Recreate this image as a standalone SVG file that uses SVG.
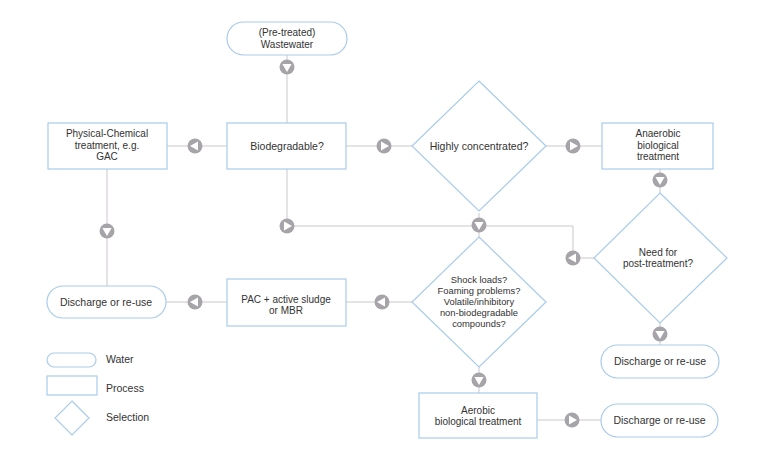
<svg xmlns="http://www.w3.org/2000/svg" xmlns:xlink="http://www.w3.org/1999/xlink" width="768" height="452" viewBox="0 0 768 452">
<style>
.n{fill:#ffffff;stroke:#a9cbea;stroke-width:1.2}
.c{fill:none;stroke:#cbc7cd;stroke-width:1}
.t{font-family:"Liberation Sans",Arial,sans-serif;font-size:10px;fill:#333333;text-anchor:middle}
.s{font-size:9.4px}
.l{font-family:"Liberation Sans",Arial,sans-serif;font-size:10.5px;fill:#333333}
</style>
<defs>
<g id="arr">
<circle r="7.5" fill="#a6a4a9"/>
<polygon points="-3,-4.6 5,0 -3,4.6" fill="#ffffff"/>
</g>
</defs>
<rect width="768" height="452" fill="#ffffff"/>
<g id="connectors">
<path class="c" d="M287,55 V123"/>
<path class="c" d="M227,146 H167"/>
<path class="c" d="M346,146 H412"/>
<path class="c" d="M546,146 H602"/>
<path class="c" d="M660,169 V193"/>
<path class="c" d="M287,169 V226 H573 V258 H594"/>
<path class="c" d="M479,213 V237"/>
<path class="c" d="M660,323 V345"/>
<path class="c" d="M412,302 H346"/>
<path class="c" d="M227,302 H166"/>
<path class="c" d="M107,169 V286"/>
<path class="c" d="M479,367 V393"/>
<path class="c" d="M537,420 H601"/>
<use xlink:href="#arr" transform="translate(287,67) rotate(90)"/>
<use xlink:href="#arr" transform="translate(195,146) rotate(180)"/>
<use xlink:href="#arr" transform="translate(384,146)"/>
<use xlink:href="#arr" transform="translate(573,146)"/>
<use xlink:href="#arr" transform="translate(660,180) rotate(90)"/>
<use xlink:href="#arr" transform="translate(287,226)"/>
<use xlink:href="#arr" transform="translate(479,225) rotate(90)"/>
<use xlink:href="#arr" transform="translate(573,258) rotate(180)"/>
<use xlink:href="#arr" transform="translate(660,334) rotate(90)"/>
<use xlink:href="#arr" transform="translate(382,302) rotate(180)"/>
<use xlink:href="#arr" transform="translate(195,302) rotate(180)"/>
<use xlink:href="#arr" transform="translate(107,231) rotate(90)"/>
<use xlink:href="#arr" transform="translate(479,380) rotate(90)"/>
<use xlink:href="#arr" transform="translate(572,420)"/>
</g>
<g id="wastewater">
<rect class="n" x="227" y="22" width="120" height="33" rx="16.5"/>
<text class="t" x="287" y="36">(Pre-treated)</text>
<text class="t" x="287" y="47.7">Wastewater</text>
</g>
<g id="physchem">
<rect class="n" x="48" y="123" width="119" height="46"/>
<text class="t" x="107" y="137">Physical-Chemical</text>
<text class="t" x="107" y="148.7">treatment, e.g.</text>
<text class="t" x="107" y="160.4">GAC</text>
</g>
<g id="biodegradable">
<rect class="n" x="227" y="123" width="119" height="46"/>
<text class="t" x="287" y="149.5" style="font-size:10.5px">Biodegradable?</text>
</g>
<g id="highconc">
<polygon class="n" points="479,81 546,146 479,211 412,146"/>
<text class="t" x="479" y="149.5" style="font-size:10.5px">Highly concentrated?</text>
</g>
<g id="anaerobic">
<rect class="n" x="602" y="123" width="111" height="46"/>
<text class="t" x="658" y="137">Anaerobic</text>
<text class="t" x="658" y="148.7">biological</text>
<text class="t" x="658" y="160.4">treatment</text>
</g>
<g id="posttreat">
<polygon class="n" points="660,193 727,258 660,323 594,258"/>
<text class="t" x="658" y="255.5">Need for</text>
<text class="t" x="658" y="267.2">post-treatment?</text>
</g>
<g id="discharge1">
<rect class="n" x="601" y="345" width="118" height="33" rx="16.5"/>
<text class="t" x="660" y="365" style="font-size:10.5px">Discharge or re-use</text>
</g>
<g id="shock">
<polygon class="n" points="479,237 546,302 479,367 412,302"/>
<text class="t s" x="479" y="283.3">Shock loads?</text>
<text class="t s" x="479" y="294.3">Foaming problems?</text>
<text class="t s" x="479" y="305.3">Volatile/inhibitory</text>
<text class="t s" x="479" y="316.3">non-biodegradable</text>
<text class="t s" x="479" y="327.3">compounds?</text>
</g>
<g id="pac">
<rect class="n" x="227" y="279" width="119" height="47"/>
<text class="t" x="286" y="302.5">PAC + active sludge</text>
<text class="t" x="286" y="314.2">or MBR</text>
</g>
<g id="discharge2">
<rect class="n" x="47" y="286" width="119" height="32" rx="16"/>
<text class="t" x="106" y="305.5" style="font-size:10.5px">Discharge or re-use</text>
</g>
<g id="aerobic">
<rect class="n" x="419" y="393" width="118" height="45"/>
<text class="t" x="478" y="413.5">Aerobic</text>
<text class="t" x="478" y="425.2">biological treatment</text>
</g>
<g id="discharge3">
<rect class="n" x="601" y="404" width="117" height="33" rx="16.5"/>
<text class="t" x="659.5" y="424" style="font-size:10.5px">Discharge or re-use</text>
</g>
<g id="legend">
<rect class="n" x="47" y="353" width="49" height="14" rx="7"/>
<text class="l" x="106" y="363">Water</text>
<rect class="n" x="47" y="376" width="50" height="19"/>
<text class="l" x="106" y="391.5">Process</text>
<polygon class="n" points="72,401 89,418 72,435 55,418"/>
<text class="l" x="106" y="421">Selection</text>
</g>
</svg>
